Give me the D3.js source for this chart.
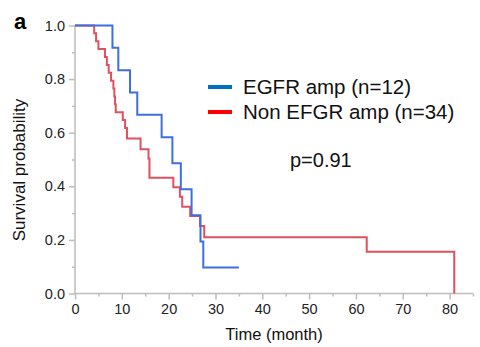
<!DOCTYPE html>
<html>
<head>
<meta charset="utf-8">
<script src="https://cdn.jsdelivr.net/npm/d3@7"></script>
<style>
  html, body { margin: 0; padding: 0; background: #fff; }
  svg { display: block; font-family: "Liberation Sans", Arial, sans-serif; }
</style>
</head>
<body>
<svg id="chart" width="480" height="347"></svg>
<script>
// ---- data ----
const egfrTimes = [0, 8.0, 9.25, 11.75, 13.3, 18.5, 20.8, 22.6, 24.9, 26.8, 27.4, 35.0];
const egfrSurv  = [1, 0.917, 0.833, 0.75, 0.667, 0.583, 0.486, 0.389, 0.292, 0.194, 0.097, 0.097];

const nonTimes = [0, 4.1, 4.5, 5.0, 6.4, 6.8, 7.2, 7.7, 8.2, 8.4, 8.55, 8.7, 10.2, 10.7, 11.1, 14.0, 15.7, 15.9, 21.0, 22.4, 22.9, 24.6, 26.7, 27.6, 62.3, 81.0];
const nonSurv  = [1, 0.971, 0.941, 0.912, 0.882, 0.853, 0.824, 0.794, 0.765, 0.735, 0.706, 0.676, 0.647, 0.618, 0.578, 0.538, 0.504, 0.432, 0.396, 0.361, 0.324, 0.289, 0.252, 0.210, 0.156, 0];

const seriesNames = ["EGFR amp (n=12)", "Non EFGR amp (n=34)"];
const xTicks = [0, 10, 20, 30, 40, 50, 60, 70, 80];
const xMinorTicks = [5, 15, 25, 35, 45, 55, 65, 75, 85];
const yTicks = [0, 0.2, 0.4, 0.6, 0.8, 1.0];
const yMinorTicks = [0.1, 0.3, 0.5, 0.7, 0.9];
const pValueLabel = "p=0.91";

// ---- layout ----
const svg = d3.select("#chart");
const x = d3.scaleLinear().domain([0, 85]).range([75, 473]);
const y = d3.scaleLinear().domain([0, 1]).range([293.5, 25.5]);
const axisColor = "#bdbdbd";

// axes
const xAxis = svg.append("g").attr("transform", `translate(0,${y(0)})`)
  .call(d3.axisBottom(x).tickValues(xTicks).tickFormat(d3.format("d")).tickSize(6).tickPadding(4));
const xMinor = svg.append("g").attr("transform", `translate(0,${y(0)})`)
  .call(d3.axisBottom(x).tickValues(xMinorTicks).tickFormat("").tickSize(3));
xMinor.select(".domain").remove();

const yAxis = svg.append("g").attr("transform", `translate(${x(0)},0)`)
  .call(d3.axisLeft(y).tickValues(yTicks).tickFormat(d3.format(".1f")).tickSize(6).tickPadding(4));
const yMinor = svg.append("g").attr("transform", `translate(${x(0)},0)`)
  .call(d3.axisLeft(y).tickValues(yMinorTicks).tickFormat("").tickSize(3));
yMinor.select(".domain").remove();

svg.selectAll(".domain, .tick line").attr("stroke", axisColor).attr("stroke-width", 1.5);
xAxis.select(".domain").attr("d", `M${x(0)},0H${x(85)}`);
yAxis.select(".domain").attr("d", `M0,${y(1)}V${y(0)}`);
svg.selectAll(".tick text").attr("fill", "#222").attr("font-size", 14.5)
  .attr("font-family", "'Liberation Sans', Arial, sans-serif");

// axis titles
svg.append("text").attr("x", (x(0) + x(85)) / 2).attr("y", 340)
  .attr("text-anchor", "middle").attr("font-size", 16.5).attr("fill", "#111")
  .text("Time (month)");
svg.append("text").attr("transform", `translate(25,${170}) rotate(-90)`)
  .attr("text-anchor", "middle").attr("font-size", 17).attr("fill", "#111")
  .text("Survival probability");
svg.append("text").attr("x", 14).attr("y", 29).attr("font-size", 22)
  .attr("font-weight", "bold").attr("fill", "#000").text("a");

// curves
const line = d3.line().x(d => x(d[0])).y(d => y(d[1])).curve(d3.curveStepAfter);
const nonPts = nonTimes.map((t, i) => [t, nonSurv[i]]);
const egfrPts = egfrTimes.map((t, i) => [t, egfrSurv[i]]);

svg.append("path").datum(nonPts).attr("d", line).attr("fill", "none")
  .attr("stroke", "#e0505f").attr("stroke-width", 2);
svg.append("path").datum(egfrPts).attr("d", line).attr("fill", "none")
  .attr("stroke", "#3d6fe0").attr("stroke-width", 2);

// legend
const legendColors = ["#0070c0", "#ff0000"];
const leg = svg.append("g");
seriesNames.forEach((name, i) => {
  const cy = 87 + i * 25;
  leg.append("line").attr("x1", 208).attr("x2", 232).attr("y1", cy).attr("y2", cy)
    .attr("stroke", legendColors[i]).attr("stroke-width", 4);
  leg.append("text").attr("x", 243).attr("y", cy + 7).attr("font-size", 20.5)
    .attr("fill", "#111").text(name);
});

svg.append("text").attr("x", 290).attr("y", 167).attr("font-size", 20)
  .attr("fill", "#111").text(pValueLabel);
</script>
</body>
</html>
